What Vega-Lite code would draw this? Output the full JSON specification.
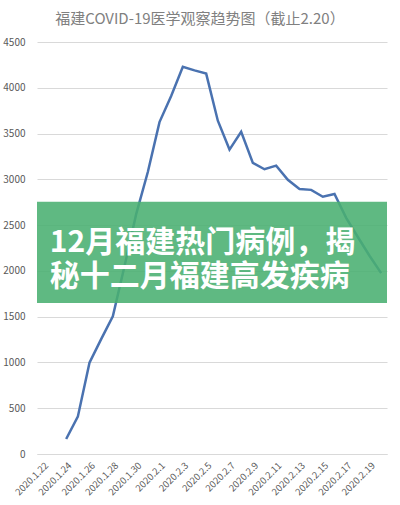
{
  "$schema": "https://vega.github.io/schema/vega-lite/v6.json",
  "autosize": {"type": "none"},
  "width": 350,
  "height": 412,
  "padding": {"left": 37, "top": 42, "right": 13, "bottom": 51},
  "background": "white",
  "config": {
    "view": {"stroke": null},
    "font": "Noto Sans CJK SC"
  },
  "title": {
    "text": "福建COVID-19医学观察趋势图（截止2.20）",
    "fontSize": 15,
    "fontWeight": "normal",
    "color": "#808080",
    "font": "Noto Sans CJK SC",
    "anchor": "middle",
    "dx": -12,
    "offset": 10
  },
  "layer": [
    {
      "data": {
        "values": [
          {"date": "2020.1.24", "count": 164},
          {"date": "2020.1.25", "count": 408},
          {"date": "2020.1.26", "count": 998},
          {"date": "2020.1.27", "count": 1255},
          {"date": "2020.1.28", "count": 1505},
          {"date": "2020.1.29", "count": 2050},
          {"date": "2020.1.30", "count": 2620},
          {"date": "2020.1.31", "count": 3080},
          {"date": "2020.2.1", "count": 3625},
          {"date": "2020.2.2", "count": 3910},
          {"date": "2020.2.3", "count": 4230},
          {"date": "2020.2.4", "count": 4190},
          {"date": "2020.2.5", "count": 4155},
          {"date": "2020.2.6", "count": 3640},
          {"date": "2020.2.7", "count": 3325},
          {"date": "2020.2.8", "count": 3520},
          {"date": "2020.2.9", "count": 3180},
          {"date": "2020.2.10", "count": 3110},
          {"date": "2020.2.11", "count": 3150},
          {"date": "2020.2.12", "count": 2995},
          {"date": "2020.2.13", "count": 2895},
          {"date": "2020.2.14", "count": 2885},
          {"date": "2020.2.15", "count": 2810},
          {"date": "2020.2.16", "count": 2840},
          {"date": "2020.2.17", "count": 2580},
          {"date": "2020.2.18", "count": 2370},
          {"date": "2020.2.19", "count": 2165},
          {"date": "2020.2.20", "count": 1975}
        ]
      },
      "mark": {"type": "line", "color": "#4a72b0", "strokeWidth": 2.5, "strokeJoin": "miter"},
      "encoding": {
        "x": {
          "field": "date",
          "type": "ordinal",
          "sort": null,
          "scale": {
            "type": "point",
            "padding": 0.5,
            "domain": ["2020.1.22","2020.1.23","2020.1.24","2020.1.25","2020.1.26","2020.1.27","2020.1.28","2020.1.29","2020.1.30","2020.1.31","2020.2.1","2020.2.2","2020.2.3","2020.2.4","2020.2.5","2020.2.6","2020.2.7","2020.2.8","2020.2.9","2020.2.10","2020.2.11","2020.2.12","2020.2.13","2020.2.14","2020.2.15","2020.2.16","2020.2.17","2020.2.18","2020.2.19","2020.2.20"]
          },
          "axis": {
            "title": null,
            "values": ["2020.1.22","2020.1.24","2020.1.26","2020.1.28","2020.1.30","2020.2.1","2020.2.3","2020.2.5","2020.2.7","2020.2.9","2020.2.11","2020.2.13","2020.2.15","2020.2.17","2020.2.19"],
            "labelAngle": -45,
            "labelFontSize": 9.5,
            "labelColor": "#595959",
            "labelFont": "Noto Sans CJK SC",
            "labelPadding": 6,
            "ticks": false,
            "domain": true,
            "domainColor": "#d9d9d9",
            "grid": false
          }
        },
        "y": {
          "field": "count",
          "type": "quantitative",
          "scale": {"domain": [0, 4500], "nice": false},
          "axis": {
            "title": null,
            "values": [0, 500, 1000, 1500, 2000, 2500, 3000, 3500, 4000, 4500],
            "format": "d",
            "labelFontSize": 10,
            "labelColor": "#595959",
            "labelFont": "Noto Sans CJK SC",
            "labelPadding": 12,
            "ticks": false,
            "domain": false,
            "grid": true,
            "gridColor": "#d9d9d9",
            "gridWidth": 1
          }
        }
      }
    },
    {
      "data": {"values": [{"top": 2754, "bottom": 1650}]},
      "mark": {"type": "rect", "color": "#49af71", "opacity": 0.88},
      "encoding": {
        "y": {"field": "top", "type": "quantitative"},
        "y2": {"field": "bottom"}
      }
    },
    {
      "data": {"values": [{"line": "12月福建热门病例，揭\n秘十二月福建高发疾病", "row": 2300}]},
      "mark": {"type": "text", "color": "white", "fontWeight": "bold", "fontSize": 30, "font": "Noto Sans CJK SC", "align": "left", "baseline": "middle", "lineBreak": "\n", "lineHeight": 34, "dx": 7},
      "encoding": {
        "x": {"datum": "2020.1.22", "type": "ordinal"},
        "y": {"field": "row", "type": "quantitative"},
        "text": {"field": "line"}
      }
    }
  ]
}
